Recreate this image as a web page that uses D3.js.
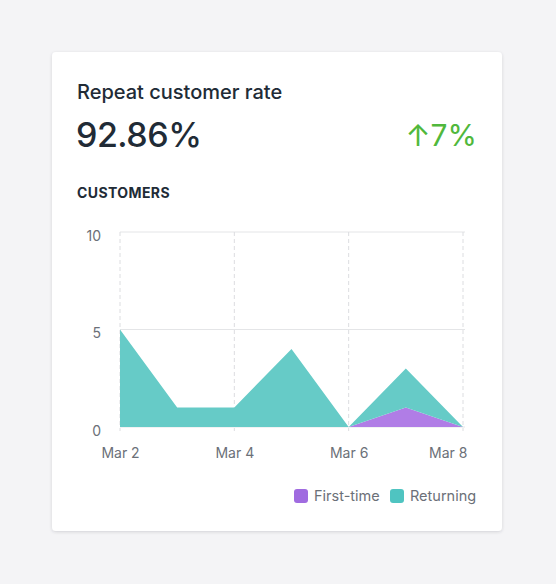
<!DOCTYPE html>
<html>
<head>
    <title>Repeat customer rate</title>
    <script src="https://cdnjs.cloudflare.com/ajax/libs/d3/7.8.5/d3.min.js"></script>
    <style>
        body{
            margin: 0;
            background-color: #f4f4f6;
            font-family: Inter, "Open Sans", sans-serif;
        }
        svg text{
            font-family: Inter, "Open Sans", sans-serif;
        }
    </style>
</head>
<body>
    <svg id="chart" width="556" height="584"></svg>

    <script>
        // data
        var days = ["Mar 2", "Mar 3", "Mar 4", "Mar 5", "Mar 6", "Mar 7", "Mar 8"];
        var firstTime = [0, 0, 0, 0, 0, 1, 0];
        var returning = [5, 1, 1, 4, 0, 2, 0];
        var yTicks = [0, 5, 10];
        var xTickLabels = ["Mar 2", "Mar 4", "Mar 6", "Mar 8"];
        var seriesNames = ["First-time", "Returning"];
        var seriesColors = ["#b07de6", "#66cbc7"];
        var swatchColors = ["#a06be0", "#4fc4c1"];

        var svg = d3.select("#chart");

        var defs = svg.append("defs");
        var shadow = defs.append("filter").attr("id", "shadow")
                        .attr("x", "-10%").attr("y", "-10%")
                        .attr("width", "120%").attr("height", "120%");
        shadow.append("feDropShadow")
            .attr("dx", 0).attr("dy", 1)
            .attr("stdDeviation", 1.5)
            .attr("flood-color", "#3f3f44")
            .attr("flood-opacity", 0.18);

        // card
        svg.append("rect")
            .attr("x", 52).attr("y", 52)
            .attr("width", 450).attr("height", 479)
            .attr("rx", 4)
            .attr("fill", "white")
            .attr("filter", "url(#shadow)");

        svg.append("text")
            .attr("x", 77).attr("y", 99)
            .attr("font-size", 20)
            .attr("font-weight", 500)
            .attr("fill", "#212b36")
            .text("Repeat customer rate");

        svg.append("text")
            .attr("x", 76).attr("y", 147)
            .attr("font-size", 34)
            .attr("font-weight", 500)
            .attr("letter-spacing", -0.5)
            .attr("fill", "#212b36")
            .text("92.86%");

        svg.append("text")
            .attr("x", 477).attr("y", 146)
            .attr("text-anchor", "end")
            .attr("font-size", 30)
            .attr("fill", "#50b83c")
            .text("\u21917%");

        svg.append("text")
            .attr("x", 77).attr("y", 198)
            .attr("font-size", 14)
            .attr("font-weight", 700)
            .attr("letter-spacing", 0.4)
            .attr("fill", "#212b36")
            .text("CUSTOMERS");

        var xScale = d3.scalePoint().domain(days).range([120, 463]);
        var yScale = d3.scaleLinear().domain([0, 10]).range([427, 232]);

        // horizontal grid
        svg.append("g")
            .selectAll("line")
            .data(yTicks)
            .enter()
            .append("line")
            .attr("x1", 120).attr("x2", 465)
            .attr("y1", d => yScale(d)).attr("y2", d => yScale(d))
            .attr("stroke", "#e4e5e7")
            .attr("stroke-width", 1);

        // vertical dashed grid
        svg.append("g")
            .selectAll("line")
            .data(xTickLabels)
            .enter()
            .append("line")
            .attr("x1", d => xScale(d)).attr("x2", d => xScale(d))
            .attr("y1", yScale(10)).attr("y2", yScale(0) + 4)
            .attr("stroke", "#dcdde0")
            .attr("stroke-dasharray", "4,3")
            .attr("stroke-width", 1);

        // stacked areas
        var table = days.map((d, i) => ({day: d, "First-time": firstTime[i], "Returning": returning[i]}));
        var stack = d3.stack().keys(seriesNames);
        var layers = stack(table);

        var area = d3.area()
                    .x(d => xScale(d.data.day))
                    .y0(d => yScale(d[0]))
                    .y1(d => yScale(d[1]));

        svg.append("g")
            .selectAll("path")
            .data(layers)
            .enter()
            .append("path")
            .attr("d", area)
            .attr("fill", (d, i) => seriesColors[i]);

        // axes
        var yAxis = d3.axisLeft(yScale)
                        .tickValues(yTicks)
                        .tickSize(0)
                        .tickPadding(0);
        var yAxisG = svg.append("g")
            .attr("transform", "translate(101,0)")
            .call(yAxis);
        yAxisG.select(".domain").remove();
        yAxisG.selectAll("text")
            .attr("font-size", 14)
            .attr("fill", "#6b7078")
            .attr("dy", "0.58em");

        var xAxis = d3.axisBottom(xScale)
                        .tickValues(xTickLabels)
                        .tickSize(0)
                        .tickPadding(0);
        var xAxisG = svg.append("g")
            .attr("transform", "translate(0,448)")
            .call(xAxis);
        xAxisG.select(".domain").remove();
        xAxisG.selectAll("text")
            .attr("font-size", 14)
            .attr("fill", "#6b7078")
            .attr("dy", "0.71em");
        // last label is kept inside the plot, like the original
        xAxisG.selectAll(".tick").filter(d => d === xTickLabels[xTickLabels.length - 1])
            .select("text")
            .attr("text-anchor", "end")
            .attr("x", 4);

        // legend
        var legendX = [294, 390];
        var legend = svg.append("g")
            .selectAll("g")
            .data(seriesNames)
            .enter()
            .append("g")
            .attr("transform", (d, i) => `translate(${legendX[i]},489)`);
        legend.append("rect")
            .attr("width", 14).attr("height", 14)
            .attr("rx", 3)
            .attr("fill", (d, i) => swatchColors[i]);
        legend.append("text")
            .attr("x", 20).attr("y", 12)
            .attr("font-size", 14.5)
            .attr("fill", "#6b7078")
            .text(d => d);
    </script>
</body>
</html>
